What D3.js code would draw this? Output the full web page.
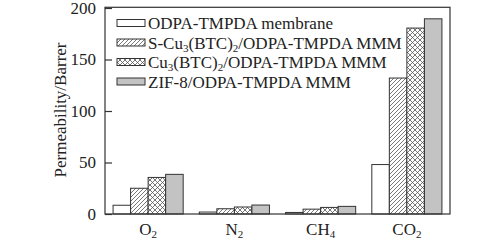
<!DOCTYPE html>
<html><head><meta charset="utf-8">
<script src="https://cdn.jsdelivr.net/npm/d3@7"></script>
<style>body{margin:0;background:#fff;} svg{display:block;} text{font-family:"Liberation Serif","Times New Roman",serif;fill:#222;}</style>
</head><body>
<svg id="c" width="500" height="241"></svg>
<script>
const categories = ["O2","N2","CH4","CO2"];
const catLabels = [["O","2"],["N","2"],["CH","4"],["CO","2"]];
const seriesNames = ["ODPA-TMPDA membrane","S-Cu3(BTC)2/ODPA-TMPDA MMM","Cu3(BTC)2/ODPA-TMPDA MMM","ZIF-8/ODPA-TMPDA MMM"];
const seriesLabelParts = [
  [["ODPA-TMPDA membrane",0]],
  [["S-Cu",0],["3",1],["(BTC)",0],["2",1],["/ODPA-TMPDA MMM",0]],
  [["Cu",0],["3",1],["(BTC)",0],["2",1],["/ODPA-TMPDA MMM",0]],
  [["ZIF-8/ODPA-TMPDA MMM",0]]
];
const pureValues = [8.5, 1.9, 1.5, 48];
const sCuValues = [25, 5.1, 4.7, 132];
const cuValues = [35.5, 6.8, 6.4, 180.5];
const zifValues = [38.5, 8.7, 7.4, 189.5];
const yTicks = [0, 50, 100, 150, 200];

const seriesValues = [pureValues, sCuValues, cuValues, zifValues];
const fills = ["#fff","url(#hatch)","url(#cross)","#c3c3c3"];

const svg = d3.select("#c");
const L = 105, R = 450, T = 8, B = 214;
const defs = svg.append("defs");
const h = defs.append("pattern").attr("id","hatch").attr("patternUnits","userSpaceOnUse").attr("width",4).attr("height",4);
h.append("rect").attr("width",4).attr("height",4).attr("fill","#fff");
h.append("path").attr("d","M-1,1 l2,-2 M0,4 l4,-4 M3,5 l2,-2").attr("stroke","#555").attr("stroke-width",0.8);
const c = defs.append("pattern").attr("id","cross").attr("patternUnits","userSpaceOnUse").attr("width",5).attr("height",5);
c.append("rect").attr("width",5).attr("height",5).attr("fill","#fff");
c.append("path").attr("d","M0,0 L5,5 M5,0 L0,5").attr("stroke","#555").attr("stroke-width",0.8);

const x0 = d3.scaleBand().domain(categories).range([L, R]).padding(0);
const x1 = d3.scaleBand().domain(d3.range(4)).range([0, x0.bandwidth()]).paddingInner(0).paddingOuter(0.46);
const y = d3.scaleLinear().domain([0, 200]).range([B, T]);

// bars
categories.forEach((cat, ci) => {
  seriesValues.forEach((vals, si) => {
    svg.append("rect")
      .attr("x", x0(cat) + x1(si))
      .attr("y", y(vals[ci]))
      .attr("width", x1.bandwidth())
      .attr("height", y(0) - y(vals[ci]))
      .attr("fill", fills[si])
      .attr("stroke", "#333").attr("stroke-width", 1);
  });
});

// frame
svg.append("rect").attr("x", L).attr("y", T - 0.7).attr("width", R - L).attr("height", B - T + 0.7)
  .attr("fill","none").attr("stroke","#333").attr("stroke-width",1.2);

// y axis
const yAxis = d3.axisLeft(y).tickValues(yTicks).tickSize(-7).tickPadding(5);
const gy = svg.append("g").attr("transform",`translate(${L},0)`).call(yAxis);
gy.select(".domain").remove();
gy.selectAll("line").attr("stroke","#333").attr("stroke-width",1.2);
gy.selectAll("text").attr("font-size",17).attr("fill","#222").style("font-family",'"Liberation Serif",serif').attr("dx",-4);

// y label
svg.append("text").attr("transform","translate(66,110) rotate(-90)").attr("text-anchor","middle")
  .attr("font-size",17).text("Permeability/Barrer");

// x labels
categories.forEach((cat, ci) => {
  const t = svg.append("text").attr("x", x0(cat) + x0.bandwidth()/2).attr("y", 235).attr("text-anchor","middle").attr("font-size",17);
  t.append("tspan").text(catLabels[ci][0]);
  t.append("tspan").attr("font-size",11).attr("dy",3).text(catLabels[ci][1]);
});

// legend
const ly = [23, 42.5, 62, 81.5];
seriesNames.forEach((name, si) => {
  svg.append("rect").attr("x",117).attr("y",ly[si]-3.5).attr("width",28).attr("height",7)
    .attr("fill",fills[si]).attr("stroke","#333").attr("stroke-width",1);
  const t = svg.append("text").attr("x",148).attr("y",ly[si]+6).attr("font-size",17);
  seriesLabelParts[si].forEach(([s, sub], k) => {
    const ts = t.append("tspan").text(s);
    if (sub) ts.attr("font-size",11).attr("dy",3);
    else if (k > 0 && seriesLabelParts[si][k-1][1]) ts.attr("dy",-3);
  });
});
</script>
</body></html>
